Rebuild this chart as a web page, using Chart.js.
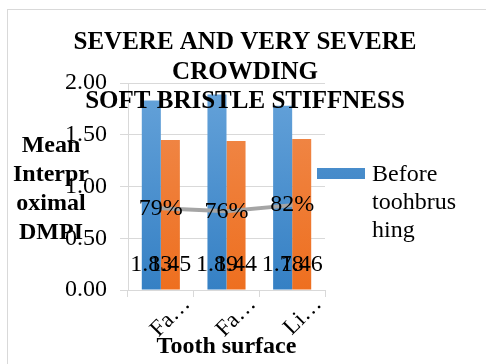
<!DOCTYPE html>
<html>
<head>
<meta charset="utf-8">
<script src="https://cdn.jsdelivr.net/npm/chart.js@4"></script>
<style>
  html, body { margin: 0; padding: 0; background: #fff; }
  #wrap { width: 486px; height: 364px; }
</style>
</head>
<body>
<div id="wrap"><canvas id="chart"></canvas></div>
<script>
const surfaces = ["Fa\u2026", "Fa\u2026", "Li\u2026"];
const beforeBrushing = [1.83, 1.89, 1.78];
const afterBrushing = [1.45, 1.44, 1.46];
const reduction = [0.79, 0.76, 0.82];
const yTicks = [0, 0.5, 1, 1.5, 2];
const titleLines = ["SEVERE AND VERY SEVERE", "CROWDING", "SOFT BRISTLE STIFFNESS"];
const yTitleLines = ["Mean", "Interpr", "oximal", "DMPI"];
const legendLines = ["Before", "toohbrus", "hing"];

const serif = '"Liberation Serif", "Times New Roman", serif';

function grad(c, top, bottom, fallback) {
  const area = c.chart.chartArea;
  if (!area) return fallback;
  const g = c.chart.ctx.createLinearGradient(0, area.top, 0, area.bottom);
  g.addColorStop(0, top);
  g.addColorStop(1, bottom);
  return g;
}

// title, y title, legend, frame and value labels
const decor = {
  id: "decor",
  beforeDraw(chart) {
    const ctx = chart.ctx;
    ctx.save();
    ctx.strokeStyle = "#d9d9d9";
    ctx.lineWidth = 1;
    ctx.strokeRect(7.5, 9.5, 600, 600);
    ctx.restore();
  },
  afterDatasetsDraw(chart) {
    const ctx = chart.ctx;
    ctx.save();
    ctx.font = "24px " + serif;
    ctx.fillStyle = "#000";
    ctx.textAlign = "center";
    ctx.textBaseline = "middle";
    [0, 1].forEach(i => {
      const meta = chart.getDatasetMeta(i);
      meta.data.forEach((bar, j) => {
        ctx.fillText(chart.data.datasets[i].data[j].toFixed(2), bar.x, bar.base - 25);
      });
    });
    const lineMeta = chart.getDatasetMeta(2);
    lineMeta.data.forEach((pt, j) => {
      ctx.fillText(Math.round(reduction[j] * 100) + "%", pt.x, pt.y);
    });
    ctx.restore();
  },
  afterDraw(chart) {
    const ctx = chart.ctx;
    ctx.save();
    ctx.fillStyle = "#000";
    ctx.textBaseline = "middle";
    ctx.textAlign = "center";
    ctx.font = "bold 25px " + serif;
    titleLines.forEach((t, i) => ctx.fillText(t, 245, 43 + i * 29.5));
    ctx.font = "bold 24px " + serif;
    yTitleLines.forEach((t, i) => ctx.fillText(t, 51, 146 + i * 29));
    // legend, first series only
    ctx.fillStyle = grad({ chart }, "#5b9bd5", "#2e78bd", "#5b9bd5");
    ctx.fillRect(317, 168, 48, 11);
    ctx.fillStyle = "#000";
    ctx.textAlign = "left";
    ctx.font = "24px " + serif;
    legendLines.forEach((t, i) => ctx.fillText(t, 372, 175 + i * 28));
    ctx.restore();
  }
};

new Chart(document.getElementById("chart"), {
  type: "bar",
  data: {
    labels: surfaces,
    datasets: [
      {
        label: "Before toohbrushing",
        data: beforeBrushing,
        backgroundColor: c => grad(c, "#66a3da", "#3580c4", "#5b9bd5"),
        categoryPercentage: 0.58,
        barPercentage: 1,
        order: 1,
      },
      {
        label: "After toohbrushing",
        data: afterBrushing,
        backgroundColor: c => grad(c, "#f08c50", "#ee6f1f", "#ed7d31"),
        categoryPercentage: 0.58,
        barPercentage: 1,
        order: 1,
      },
      {
        type: "line",
        label: "Reduction",
        data: reduction,
        borderColor: "#a5a5a5",
        backgroundColor: "#a5a5a5",
        borderWidth: 4,
        pointRadius: 0,
        fill: false,
        order: 0,
      },
    ],
  },
  plugins: [decor],
  options: {
    responsive: true,
    maintainAspectRatio: false,
    animation: false,
    layout: {
      padding: { left: 0, top: 83, right: 161, bottom: 0 },
    },
    plugins: {
      legend: { display: false },
      title: { display: false },
      tooltip: { enabled: false },
    },
    scales: {
      y: {
        min: 0,
        max: 2,
        afterFit(scale) { scale.width = 128; },
        afterBuildTicks(scale) { scale.ticks = yTicks.map(v => ({ value: v })); },
        ticks: {
          padding: 13,
          color: "#000",
          font: { family: serif, size: 24 },
          callback: v => Number(v).toFixed(2),
        },
        grid: { color: "#d9d9d9", tickLength: 8 },
        border: { display: true, color: "#d9d9d9" },
      },
      x: {
        afterFit(scale) { scale.height = 74; },
        ticks: {
          autoSkip: false,
          minRotation: 45,
          maxRotation: 45,
          labelOffset: 26,
          padding: -6,
          color: "#000",
          font: { family: serif, size: 23 },
        },
        grid: { drawOnChartArea: false, drawTicks: true, tickLength: 7, color: "#d9d9d9" },
        border: { display: true, color: "#d9d9d9" },
        title: {
          display: true,
          text: "Tooth surface",
          color: "#000",
          font: { family: serif, size: 24, weight: "bold" },
          padding: { top: 0, bottom: 3 },
        },
      },
    },
  },
});
</script>
</body>
</html>
